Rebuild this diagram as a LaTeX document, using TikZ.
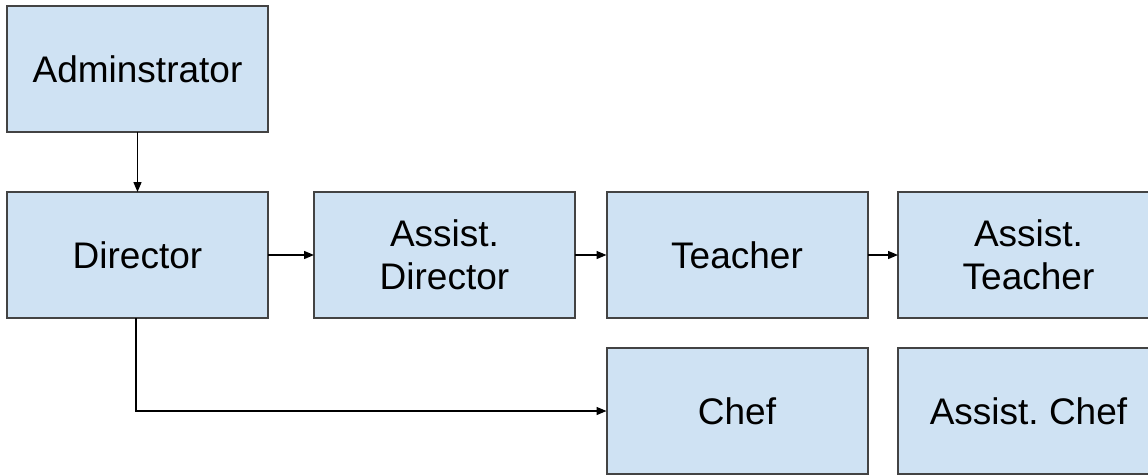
\documentclass[tikz,border=0pt]{standalone}
\usepackage{fontspec}
\setmainfont{Liberation Sans}
\usetikzlibrary{arrows.meta}
\definecolor{boxfill}{HTML}{CFE2F3}
\definecolor{boxline}{HTML}{434343}
\frenchspacing
\begin{document}
\begin{tikzpicture}[x=1pt,y=-1pt,
  box/.style={draw=boxline, fill=boxfill, line width=2pt, inner sep=0pt, outer sep=0pt,
    minimum width=261pt, minimum height=126pt, align=center,
    font=\fontsize{37}{43}\selectfont, text=black},
  conn/.style={line width=1.4pt, black, -{Triangle[length=10pt,width=8pt]}}]
\useasboundingbox (0,0) rectangle (1148,474);
\clip (0,0) rectangle (1148,474);
\node[box] (adm) at (137.5,69) {Adminstrator};
\node[box] (dir) at (137.5,255) {Director};
\node[box] (ad) at (444.5,255) {Assist.\\Director};
\node[box] (tea) at (737,255) {Teacher};
\node[box] (at) at (1028.5,255) {Assist.\\Teacher};
\node[box] (chef) at (737,411) {Chef};
\node[box] (ac) at (1028.5,411) {Assist.\ Chef};
\draw[conn] (adm.south) -- (dir.north);
\draw[conn] (dir.east) -- (ad.west);
\draw[conn] (ad.east) -- (tea.west);
\draw[conn] (tea.east) -- (at.west);
\draw[conn] ([xshift=-1.5pt]dir.south) |- (chef.west);
\end{tikzpicture}
\end{document}
